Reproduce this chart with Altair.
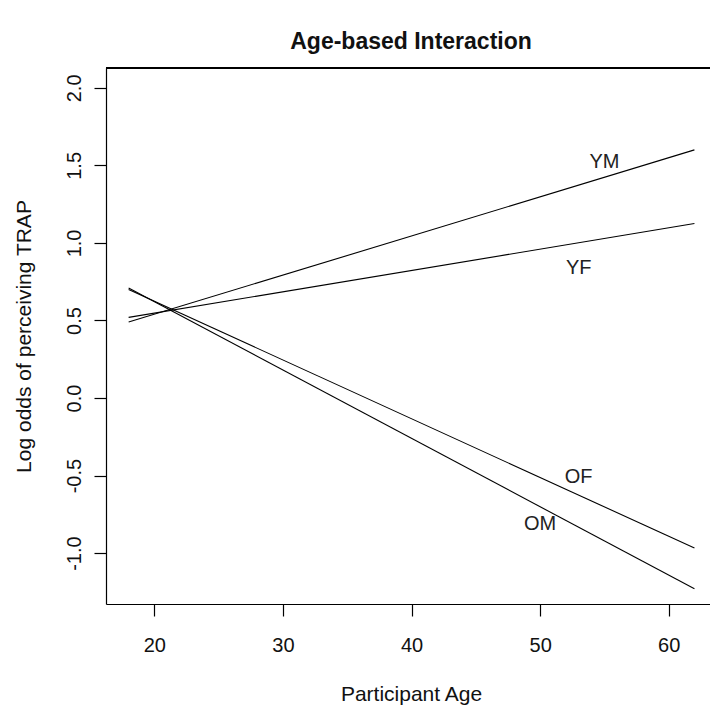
import altair as alt
import pandas as pd

# Line endpoints (ages 18 and 62)
groups = ["YM", "YM", "YF", "YF", "OF", "OF", "OM", "OM"]
ages = [18, 62, 18, 62, 18, 62, 18, 62]
log_odds = [0.49, 1.60, 0.52, 1.125, 0.70, -0.967, 0.71, -1.23]

# Label positions
label_text = ["YM", "YF", "OF", "OM"]
label_x = [55, 53, 53, 50]
label_y = [1.52, 0.84, -0.51, -0.81]

x_ticks = [20, 30, 40, 50, 60]
y_ticks = [-1.0, -0.5, 0.0, 0.5, 1.0, 1.5, 2.0]

lines_df = pd.DataFrame({"group": groups, "age": ages, "lo": log_odds})
labels_df = pd.DataFrame({"label": label_text, "age": label_x, "lo": label_y})

FONT = "Liberation Sans"

xscale = alt.Scale(domain=[16.24, 63.21], nice=False, zero=False)
yscale = alt.Scale(domain=[-1.328, 2.128], nice=False, zero=False)

xaxis = alt.Axis(
    values=x_ticks, title="Participant Age", grid=False,
    tickSize=12, labelPadding=35, labelBaseline="alphabetic",
    labelFontSize=20, titleFontSize=21, titleFontWeight="normal",
    titleX=305, titleY=96, titleBaseline="alphabetic", titleAlign="center",
    domainColor="black", tickColor="black", labelColor="#111111", titleColor="#111111",
    labelFont=FONT, titleFont=FONT, labelFlush=False,
)
yaxis = alt.Axis(
    values=y_ticks, title="Log odds of perceiving TRAP", grid=False,
    tickSize=12, labelPadding=14, labelAngle=-90, labelAlign="center",
    labelBaseline="alphabetic",
    labelExpr="datum.value < 0 ? '-' + format(-datum.value, '.1f') : format(datum.value, '.1f')",
    labelFontSize=20, titleFontSize=21, titleFontWeight="normal",
    titleX=-76, titleY=268, titleAngle=-90, titleBaseline="alphabetic", titleAlign="center",
    domainColor="black", tickColor="black", labelColor="#111111", titleColor="#111111",
    labelFont=FONT, titleFont=FONT, labelFlush=False,
)

lines = alt.Chart(lines_df).mark_line(color="black", strokeWidth=1.1, clip=True).encode(
    x=alt.X("age:Q", scale=xscale, axis=xaxis),
    y=alt.Y("lo:Q", scale=yscale, axis=yaxis),
    detail="group:N",
)

labels = alt.Chart(labels_df).mark_text(
    font=FONT, fontSize=20, color="#222222", align="center", baseline="middle"
).encode(
    x=alt.X("age:Q", scale=xscale),
    y=alt.Y("lo:Q", scale=yscale),
    text="label:N",
)

top_border = alt.Chart(lines_df).mark_rule(color="black", strokeWidth=1.2).encode(
    x=alt.value(0), x2=alt.value(604), y=alt.value(0)
)

chart = alt.layer(lines, labels, top_border).properties(
    width=604, height=536,
    padding={"left": 106, "top": 68, "right": 0, "bottom": 106},
    autosize="none",
    title=alt.TitleParams(
        "Age-based Interaction", font=FONT, fontSize=23, fontWeight="bold",
        color="#111111", anchor="middle", offset=13, dx=3,
    ),
).configure_view(stroke=None).configure_axis(domainWidth=1.2, tickWidth=1.2)

chart.save("out.html", embed_options={"renderer": "svg", "actions": False})
